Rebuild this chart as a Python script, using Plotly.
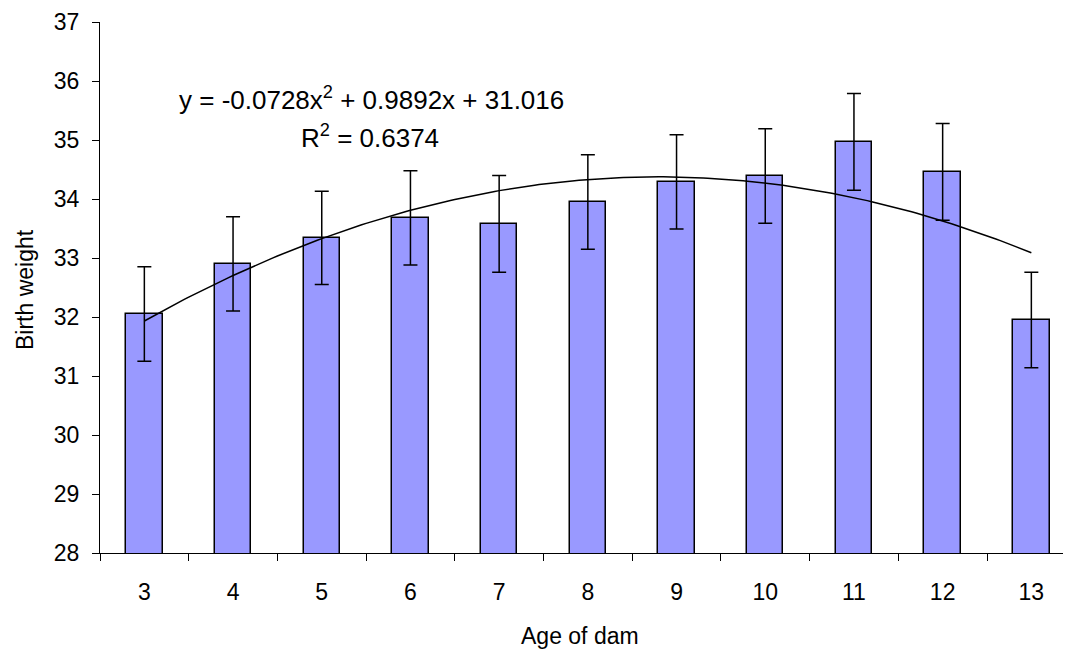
import numpy as np
import plotly.graph_objects as go

ages = ["3", "4", "5", "6", "7", "8", "9", "10", "11", "12", "13"]
birth_weight = [32.05, 32.90, 33.34, 33.68, 33.58, 33.95, 34.29, 34.39, 34.97, 34.46, 31.95]
error = [0.80, 0.80, 0.79, 0.80, 0.82, 0.80, 0.80, 0.80, 0.82, 0.82, 0.81]
# displayed polynomial trendline coefficients (x = category index 1..11)
coef_a, coef_b, coef_c = -0.0728, 0.9892, 31.016
r_squared = 0.6374

pos = list(range(1, len(ages) + 1))
xt = np.linspace(1, len(ages), 201)
yt = coef_a * xt**2 + coef_b * xt + coef_c

fig = go.Figure()
fig.add_trace(go.Bar(
    x=pos, y=birth_weight, width=0.41,
    marker=dict(color="#9999FF", line=dict(color="black", width=1.5)),
    error_y=dict(type="data", array=error, visible=True, color="black", thickness=1.5, width=7),
))
fig.add_trace(go.Scatter(x=xt, y=yt, mode="lines", line=dict(color="black", width=1.5), hoverinfo="skip"))

font = "Liberation Sans, Arial, sans-serif"
OFF = 8  # page body margin
W_PLOT = 971
H_PLOT = 531
fig.update_layout(
    width=1071 - OFF, height=657 - OFF,
    margin=dict(l=100 - OFF, r=0, t=22 - OFF, b=104, pad=0),
    paper_bgcolor="white", plot_bgcolor="white",
    showlegend=False,
    font=dict(family=font, size=23, color="black"),
    xaxis=dict(
        range=[0.5, 11.447], tickmode="array", tickvals=pos, ticktext=ages,
        ticks="", showgrid=False, zeroline=False, automargin=False,
        showline=True, linecolor="black", linewidth=1,
        ticklabelstandoff=18,
        minor=dict(tickmode="array", tickvals=[p - 0.5 for p in pos] + [len(ages) + 0.5],
                   ticks="outside", ticklen=7, tickcolor="black", tickwidth=1, showgrid=False),
        tickfont=dict(size=23),
    ),
    yaxis=dict(
        range=[28, 37], dtick=1, ticks="outside", ticklen=7, tickcolor="black",
        showgrid=False, zeroline=False, showline=True, linecolor="black", linewidth=1,
        automargin=False, ticklabelstandoff=8, tickfont=dict(size=23),
    ),
    bargap=0,
)
fig.add_annotation(text="Birth weight", xref="x domain", yref="y domain",
                   x=-(100 - 25) / W_PLOT, y=(553 - 290) / H_PLOT, showarrow=False,
                   textangle=-90, xanchor="center", yanchor="middle", font=dict(size=23))
fig.add_annotation(text="Age of dam", xref="x domain", yref="y domain",
                   x=(580 - 100) / W_PLOT, y=-(636 - 553) / H_PLOT, showarrow=False,
                   xanchor="center", yanchor="middle", font=dict(size=23))
fig.add_annotation(text="y = -0.0728x<sup>2</sup> + 0.9892x + 31.016", xref="x domain", yref="y domain",
                   x=(371 - 100) / W_PLOT, y=(553 - 98) / H_PLOT, showarrow=False,
                   xanchor="center", yanchor="middle", font=dict(size=26))
fig.add_annotation(text="R<sup>2</sup> = %.4f" % r_squared, xref="x domain", yref="y domain",
                   x=(370 - 100) / W_PLOT, y=(553 - 136) / H_PLOT, showarrow=False,
                   xanchor="center", yanchor="middle", font=dict(size=26))

fig.write_html("out.html")
